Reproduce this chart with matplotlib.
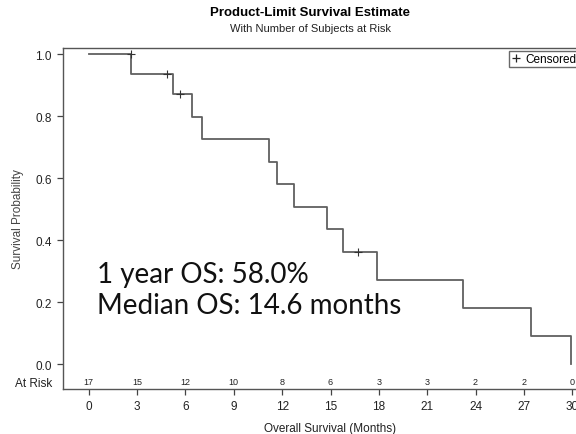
import matplotlib
matplotlib.use("Agg")
import matplotlib.pyplot as plt
from matplotlib.lines import Line2D

# Kaplan-Meier step curve (months, survival after the step)
step_times = [0, 2.6, 5.2, 6.4, 7.05, 11.2, 11.7, 12.75, 14.8, 15.8, 17.9, 23.2, 27.45, 29.9]
step_surv = [1.0, 0.9375, 0.8705, 0.798, 0.7254, 0.6529, 0.5803, 0.5078, 0.4352, 0.3627,
             0.272, 0.181, 0.0907, 0.0]

# censored observations
cens_times = [2.6, 4.85, 5.65, 16.7]
cens_surv = [1.0, 0.9375, 0.8705, 0.3627]

# number at risk
risk_times = [0, 3, 6, 9, 12, 15, 18, 21, 24, 27, 30]
risk_counts = [17, 15, 12, 10, 8, 6, 3, 3, 2, 2, 0]

y_ticks = [0.0, 0.2, 0.4, 0.6, 0.8, 1.0]

line_col = "#606060"
sas_font = ["Liberation Sans", "DejaVu Sans"]

fig = plt.figure(figsize=(5.76, 4.35), dpi=100)
W, H = 576, 435
# axes in pixel units (right edge runs off the picture, as in the original)
left, top, bottom, right = 63, 49, 390, 598
ax = fig.add_axes([left / W, 1 - bottom / H, (right - left) / W, (bottom - top) / H])

ax.step(step_times, step_surv, where="post", color=line_col, lw=1.3)
ax.plot(cens_times, cens_surv, ls="none", marker="+", ms=6, mew=0.8, color="#333333")

ax.set_xlim(-1.6, 31.6)
ax.set_ylim(-0.08, 1.02)
ax.set_xticks(risk_times)
ax.set_xticklabels([str(t) for t in risk_times], fontsize=8.5, family=sas_font, color="#222222")
ax.set_yticks(y_ticks)
ax.set_yticklabels([f"{v:.1f}" for v in y_ticks], fontsize=8.5, family=sas_font, color="#222222")
ax.tick_params(direction="out", length=4, width=0.9, color="#444444", pad=4)
for s in ax.spines.values():
    s.set_color("#555555")
    s.set_linewidth(1.0)

# at-risk row inside the plot area
for t, n in zip(risk_times, risk_counts):
    ax.text(t, -0.055, str(n), ha="center", va="center", fontsize=6.5, family=sas_font,
            color="#222222", clip_on=False)
ax.text(-0.02, 0.018, "At Risk", transform=ax.transAxes, ha="right", va="center",
        fontsize=8.5, family=sas_font, color="#222222")

ax.set_ylabel("Survival Probability", fontsize=8.5, family=sas_font, color="#444444", labelpad=8)
ax.set_xlabel("Overall Survival (Months)", fontsize=8.5, family=sas_font, color="#222222", labelpad=7)

fig.text(310 / W, 1 - 13 / H, "Product-Limit Survival Estimate", ha="center", va="center",
         fontsize=9.5, fontweight="bold", family=sas_font)
fig.text(310 / W, 1 - 29 / H, "With Number of Subjects at Risk", ha="center", va="center",
         fontsize=8, family=sas_font, color="#222222")

# legend box
handle = Line2D([], [], ls="none", marker="+", ms=6, mew=0.9, color="#222222")
ax.legend([handle], ["Censored"], loc="upper left", bbox_to_anchor=(0.834, 0.99),
          prop={"family": sas_font, "size": 8.5}, frameon=True, fancybox=False,
          edgecolor="#444444", handlelength=0.8, handletextpad=0.4, borderpad=0.15,
          borderaxespad=0)

# annotations (axes-fraction positions)
ax.text(0.064, 0.3138, "1 year OS: 58.0%", transform=ax.transAxes, fontsize=20,
        family=["Lato", "DejaVu Sans"], color="#111111", va="baseline", ha="left")
ax.text(0.064, 0.2229, "Median OS: 14.6 months", transform=ax.transAxes, fontsize=20,
        family=["Lato", "DejaVu Sans"], color="#111111", va="baseline", ha="left")

fig.savefig("out.png", dpi=100)
